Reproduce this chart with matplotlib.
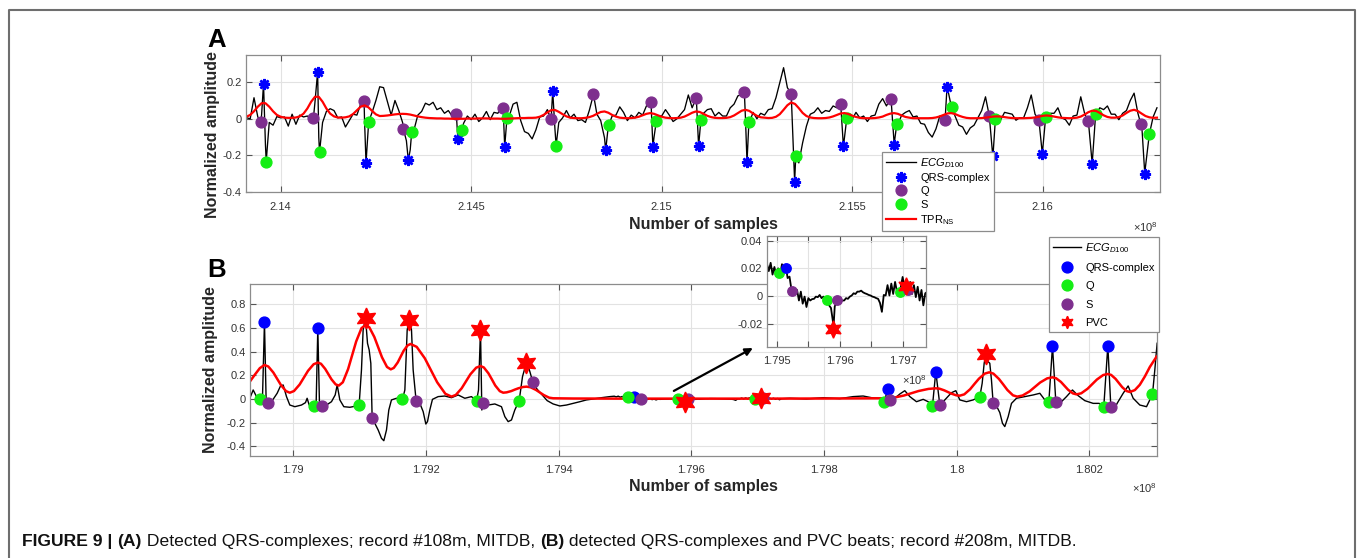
import numpy as np
import matplotlib
matplotlib.use('Agg')
import matplotlib.pyplot as plt
from matplotlib.lines import Line2D

plt.rcParams['font.family'] = ['Liberation Sans', 'DejaVu Sans']
plt.rcParams['mathtext.fontset'] = 'custom'
plt.rcParams['mathtext.rm'] = 'Liberation Sans'
plt.rcParams['mathtext.it'] = 'Liberation Sans:italic'
plt.rcParams['mathtext.bf'] = 'Liberation Sans:bold'

# ---------------- panel A : record 108m (x in 1e8 samples) ----------------
ecgA_x0, ecgA_dx = 2.1391, 0.0001
ecgA_y = [0.006, 0.0, 0.115, 0.01, 0.024, -0.14, -0.02, -0.035, 0.012, 0.005,
          0.01, -0.04, 0.025, -0.03, 0.02, 0.01, 0.015, 0.0, 0.09, -0.1,
          -0.02, 0.04, 0.055, 0.045, 0.005, 0.01, -0.045, -0.01, 0.025, 0.02,
          0.08, 0.0, -0.05, 0.035, 0.1, 0.175, 0.17, 0.095, 0.02, 0.1,
          0.045, -0.02, -0.12, -0.17, -0.06, 0.02, 0.04, 0.085, 0.075, 0.09,
          0.05, 0.06, 0.03, 0.045, 0.015, 0.03, -0.09, -0.025, 0.015, -0.005,
          0.025, -0.015, 0.005, 0.04, -0.005, 0.035, 0.03, 0.065, -0.1, 0.015,
          0.08, 0.09, -0.01, -0.07, -0.08, -0.11, -0.06, 0.01, 0.015, 0.05,
          0.0, -0.06, -0.02, 0.005, 0.045, 0.005, 0.025, -0.01, -0.005, -0.02,
          0.045, 0.124, 0.025, -0.01, -0.104, -0.04, 0.015, 0.02, 0.065, 0.035,
          -0.01, 0.02, 0.005, 0.035, 0.02, 0.07, 0.093, -0.1, 0.015, 0.015,
          0.05, 0.02, -0.015, 0.0, 0.025, 0.05, 0.13, 0.06, 0.111, -0.08,
          0.03, 0.05, 0.055, 0.015, 0.035, 0.015, 0.015, 0.06, 0.08, 0.125,
          0.133, 0.0, -0.02, 0.035, 0.0, 0.03, 0.02, 0.05, 0.055, 0.115,
          0.197, 0.279, 0.17, 0.137, -0.3, -0.241, -0.131, -0.04, 0.025, 0.035,
          0.06, 0.03, 0.045, 0.04, 0.07, 0.06, 0.079, -0.1, 0.012, -0.003,
          0.035, 0.005, 0.015, -0.015, 0.015, 0.02, 0.08, 0.11, 0.07, 0.11,
          -0.13, -0.03, 0.02, 0.035, 0.045, 0.01, 0.015, -0.025, -0.03, -0.075,
          -0.1, -0.055, 0.015, 0.005, 0.17, 0.069, 0.015, -0.035, -0.045, -0.085,
          -0.05, -0.035, 0.005, 0.045, 0.12, 0.015, -0.19, 0.012, -0.005, 0.035,
          0.03, 0.025, -0.008, 0.006, 0.005, 0.06, 0.13, 0.025, -0.004, -0.17,
          0.011, 0.03, 0.03, 0.06, 0.005, -0.005, -0.035, 0.015, 0.02, 0.12,
          0.03, -0.013, -0.245, 0.024, 0.06, 0.05, 0.07, 0.025, 0.025, -0.005,
          0.03, 0.045, 0.1, 0.14, 0.03, -0.031, -0.26, -0.084, 0.01, 0.06]
tprA_y = [0.011, 0.021, 0.041, 0.066, 0.085, 0.085, 0.066, 0.041, 0.021, 0.011,
          0.006, 0.005, 0.005, 0.007, 0.013, 0.028, 0.056, 0.093, 0.120, 0.120,
          0.093, 0.056, 0.028, 0.013, 0.007, 0.006, 0.008, 0.013, 0.026, 0.046,
          0.066, 0.073, 0.063, 0.043, 0.024, 0.015, 0.016, 0.018, 0.021, 0.024,
          0.026, 0.027, 0.026, 0.023, 0.018, 0.013, 0.009, 0.006, 0.004, 0.003,
          0.002, 0.002, 0.001, 0.001, 0.0, 0.0, 0.0, 0.0, 0.001, 0.001,
          0.001, 0.002, 0.002, 0.002, 0.001, 0.001, 0.001, 0.0, 0.0, 0.001,
          0.002, 0.003, 0.004, 0.004, 0.005, 0.005, 0.006, 0.011, 0.021, 0.035,
          0.047, 0.048, 0.038, 0.025, 0.013, 0.006, 0.004, 0.003, 0.003, 0.005,
          0.009, 0.016, 0.027, 0.037, 0.040, 0.033, 0.021, 0.012, 0.006, 0.004,
          0.003, 0.004, 0.006, 0.011, 0.019, 0.027, 0.031, 0.027, 0.019, 0.011,
          0.006, 0.004, 0.003, 0.004, 0.006, 0.012, 0.022, 0.033, 0.040, 0.037,
          0.027, 0.016, 0.009, 0.005, 0.004, 0.004, 0.005, 0.009, 0.018, 0.031,
          0.044, 0.049, 0.043, 0.029, 0.016, 0.008, 0.006, 0.004, 0.005, 0.011,
          0.025, 0.049, 0.074, 0.089, 0.081, 0.058, 0.032, 0.015, 0.007, 0.004,
          0.003, 0.003, 0.004, 0.007, 0.013, 0.021, 0.029, 0.031, 0.026, 0.017,
          0.010, 0.005, 0.003, 0.003, 0.003, 0.004, 0.007, 0.012, 0.021, 0.028,
          0.031, 0.027, 0.018, 0.010, 0.006, 0.003, 0.003, 0.003, 0.003, 0.003,
          0.004, 0.007, 0.013, 0.021, 0.029, 0.031, 0.026, 0.017, 0.010, 0.005,
          0.003, 0.003, 0.003, 0.004, 0.006, 0.009, 0.012, 0.013, 0.012, 0.009,
          0.006, 0.004, 0.003, 0.003, 0.003, 0.004, 0.005, 0.007, 0.011, 0.016,
          0.018, 0.016, 0.012, 0.008, 0.005, 0.004, 0.003, 0.004, 0.006, 0.012,
          0.023, 0.036, 0.044, 0.043, 0.032, 0.019, 0.010, 0.006, 0.006, 0.009,
          0.018, 0.032, 0.044, 0.049, 0.042, 0.028, 0.015, 0.008, 0.005, 0.006]
qrsA_x = [2.13955, 2.14097, 2.14224, 2.14335, 2.14465, 2.14588, 2.14714, 2.14853, 2.14977, 2.15097,
          2.15224, 2.15349, 2.15477, 2.15610, 2.15749, 2.15869, 2.15999, 2.16130, 2.16268]
qrsA_y = [0.192, 0.256, -0.241, -0.226, -0.108, -0.153, 0.152, -0.172, -0.153, -0.150,
          -0.237, -0.343, -0.150, -0.142, 0.175, -0.203, -0.190, -0.245, -0.300]
qA_x = [2.13948, 2.14086, 2.14219, 2.14322, 2.14461, 2.14584, 2.14709, 2.14821, 2.14972, 2.15091,
        2.15217, 2.15340, 2.15470, 2.15602, 2.15744, 2.15860, 2.15990, 2.16119, 2.16258]
qA_y = [-0.016, 0.005, 0.097, -0.055, 0.027, 0.057, 0.000, 0.133, 0.093, 0.111,
        0.148, 0.137, 0.079, 0.110, -0.004, 0.015, -0.004, -0.013, -0.031]
sA_x = [2.13962, 2.14102, 2.14231, 2.14344, 2.14476, 2.14594, 2.14723, 2.14861, 2.14986, 2.15103,
        2.15229, 2.15352, 2.15486, 2.15617, 2.15762, 2.15876, 2.16008, 2.16139, 2.16280]
sA_y = [-0.234, -0.183, -0.016, -0.071, -0.064, 0.005, -0.146, -0.035, -0.013, -0.004,
        -0.016, -0.205, 0.005, -0.031, 0.064, 0.000, 0.011, 0.024, -0.084]

# ---------------- panel B : record 208m ----------------
ecgB_x = [1.789347, 1.789398, 1.789448, 1.789503, 1.789538, 1.789568, 1.789593, 1.789619, 1.789659, 1.789709,
          1.789759, 1.789810, 1.789850, 1.789900, 1.789950, 1.790026, 1.790126, 1.790186, 1.790211, 1.790242,
          1.790312, 1.790347, 1.790372, 1.790397, 1.790428, 1.790503, 1.790578, 1.790634, 1.790664, 1.790704,
          1.790764, 1.790855, 1.790955, 1.790995, 1.791030, 1.791055, 1.791091, 1.791121, 1.791146, 1.791171,
          1.791191, 1.791231, 1.791282, 1.791332, 1.791367, 1.791407, 1.791442, 1.791482, 1.791558, 1.791648,
          1.791684, 1.791719, 1.791749, 1.791784, 1.791809, 1.791854, 1.791910, 1.791960, 1.792000, 1.792025,
          1.792060, 1.792100, 1.792186, 1.792286, 1.792387, 1.792487, 1.792588, 1.792688, 1.792764, 1.792794,
          1.792824, 1.792844, 1.792864, 1.792939, 1.793040, 1.793140, 1.793191, 1.793241, 1.793291, 1.793341,
          1.793407, 1.793457, 1.793492, 1.793527, 1.793568, 1.793613, 1.793678, 1.793753, 1.793829, 1.793919,
          1.794020, 1.794120, 1.794221, 1.794321, 1.794421, 1.794522, 1.794648, 1.794773,
          1.797486, 1.797737, 1.797988, 1.798240, 1.798440, 1.798591, 1.798717, 1.798842, 1.798903, 1.798968,
          1.799003, 1.799068, 1.799144, 1.799219, 1.799295, 1.799395, 1.799496, 1.799571, 1.799636, 1.799686,
          1.799747, 1.799822, 1.799922, 1.799988, 1.800048, 1.800149, 1.800249, 1.800350, 1.800385, 1.800415,
          1.800440, 1.800475, 1.800500, 1.800525, 1.800551, 1.800601, 1.800651, 1.800691, 1.800726, 1.800777,
          1.800827, 1.800902, 1.801028, 1.801154, 1.801254, 1.801330, 1.801390, 1.801445, 1.801495, 1.801555,
          1.801656, 1.801746, 1.801832, 1.801932, 1.802058, 1.802148, 1.802218, 1.802279, 1.802324, 1.802359,
          1.802419, 1.802510, 1.802585, 1.802661, 1.802761, 1.802862, 1.802952, 1.802987, 1.803022]
ecgB_y = [0.006, 0.076, 0.020, -0.003, 0.006, 0.647, -0.008, -0.031, -0.031, 0.006,
          0.048, 0.110, 0.118, 0.020, -0.051, -0.065, -0.051, -0.031, 0.006, -0.051,
          -0.059, -0.037, 0.596, -0.042, -0.056, -0.051, -0.023, 0.034, 0.118, -0.008,
          -0.065, -0.070, -0.059, -0.048, 0.245, 0.582, 0.686, 0.470, 0.414, 0.301,
          -0.158, -0.205, -0.262, -0.332, -0.352, -0.262, -0.093, -0.008, 0.006, -0.003,
          0.076, 0.582, 0.667, 0.582, 0.245, -0.017, -0.037, -0.107, -0.211, -0.191,
          -0.093, -0.003, 0.020, 0.025, 0.011, 0.034, 0.006, 0.020, -0.017, 0.076,
          0.582, -0.093, -0.031, -0.051, -0.042, -0.065, -0.149, -0.191, -0.177, -0.093,
          -0.014, 0.188, 0.259, 0.301, 0.231, 0.141, 0.082, 0.034, -0.014, -0.042,
          -0.059, -0.051, -0.037, -0.023, -0.008, 0.000, 0.011, 0.020,
          0.006, 0.000, 0.011, 0.003, 0.020, 0.025, 0.011, 0.006, -0.023, 0.082,
          -0.008, 0.006, 0.042, 0.070, 0.020, -0.023, -0.003, -0.023, -0.059, 0.231,
          -0.051, -0.008, 0.053, 0.070, -0.008, -0.023, -0.008, 0.020, 0.132, 0.301,
          0.377, 0.315, 0.301, 0.160, -0.037, -0.059, -0.115, -0.205, -0.233, -0.149,
          -0.037, 0.006, 0.020, 0.034, 0.048, -0.008, -0.023, 0.447, -0.023, -0.037,
          0.020, 0.076, 0.028, -0.014, -0.037, -0.037, -0.065, 0.450, -0.065, -0.107,
          -0.037, 0.048, 0.110, 0.006, -0.051, -0.065, 0.039, 0.245, 0.470]
# finely sampled stretch shown in the zoom window
ecgZ_x0, ecgZ_dx = 1.79484, 0.00003
ecgZ_y = [0.0235, 0.018, 0.024, 0.0155, 0.021, 0.0145, 0.020, 0.015, 0.023, 0.020,
          0.022, 0.013, 0.014, 0.005, 0.006, 0.004, 0.0044, -0.0032, 0.0032, -0.0055,
          -0.0004, -0.0079, -0.0015, -0.0032, -0.0022, -0.002, -0.0004, -0.0008, 0.0008, -0.0015,
          -0.0004, -0.0032, -0.0008, -0.0067, -0.0086, -0.018, -0.0074, -0.0048, -0.0039, -0.0044,
          -0.0032, -0.0032, -0.0015, -0.002, -0.0004, 0.0004, 0.002, 0.0015, 0.0032, 0.0032,
          0.0039, 0.0027, 0.002, 0.0015, 0.0008, 0.0004, -0.0004, -0.0008, -0.0015, -0.002,
          -0.005, -0.0114, 0.0008, 0.0004, 0.0079, 0.0004, 0.009, 0.0015, 0.0102, 0.0032,
          0.0048, 0.0062, 0.0138, 0.0062, 0.009, 0.0027, 0.0102, 0.0015, 0.0079, -0.0008,
          0.0067, -0.0032, 0.0044, -0.0067, 0.002]
tprB_x = [1.789347, 1.789423, 1.789498, 1.789568, 1.789626, 1.789702, 1.789759, 1.789817, 1.789893, 1.789950,
          1.790013, 1.790098, 1.790161, 1.790225, 1.790309, 1.790372, 1.790420, 1.790483, 1.790530, 1.790578,
          1.790641, 1.790689, 1.790749, 1.790829, 1.790890, 1.790950, 1.791030, 1.791091, 1.791148, 1.791224,
          1.791282, 1.791339, 1.791415, 1.791472, 1.791517, 1.791576, 1.791621, 1.791665, 1.791725, 1.791769,
          1.791862, 1.791985, 1.792078, 1.792171, 1.792294, 1.792387, 1.792452, 1.792540, 1.792605, 1.792671,
          1.792759, 1.792824, 1.792874, 1.792943, 1.792995, 1.793046, 1.793115, 1.793166, 1.793218, 1.793289,
          1.793341, 1.793394, 1.793464, 1.793517, 1.793578, 1.793658, 1.793718, 1.793778, 1.793859, 1.793919,
          1.794221, 1.794974, 1.795979, 1.796984, 1.797989, 1.798943, 1.799054, 1.799204, 1.799315, 1.799425,
          1.799576, 1.799687, 1.799741, 1.799813, 1.799868, 1.799922, 1.799994, 1.800048, 1.800115, 1.800203,
          1.800269, 1.800336, 1.800424, 1.800491, 1.800554, 1.800638, 1.800702, 1.800765, 1.800849, 1.800913,
          1.800993, 1.801099, 1.801179, 1.801259, 1.801365, 1.801445, 1.801499, 1.801572, 1.801626, 1.801680,
          1.801753, 1.801807, 1.801878, 1.801973, 1.802043, 1.802114, 1.802209, 1.802279, 1.802329, 1.802395,
          1.802445, 1.802495, 1.802561, 1.802611, 1.802686, 1.802761, 1.802837, 1.802912, 1.803013]
tprB_y = [0.146, 0.205, 0.260, 0.287, 0.274, 0.223, 0.170, 0.117, 0.066, 0.053,
          0.067, 0.122, 0.180, 0.238, 0.293, 0.307, 0.297, 0.254, 0.210, 0.166,
          0.123, 0.113, 0.141, 0.253, 0.369, 0.485, 0.597, 0.625, 0.605, 0.523,
          0.438, 0.352, 0.270, 0.250, 0.262, 0.308, 0.357, 0.406, 0.452, 0.464,
          0.440, 0.343, 0.242, 0.141, 0.044, 0.020, 0.034, 0.090, 0.149, 0.208,
          0.264, 0.278, 0.266, 0.217, 0.166, 0.114, 0.066, 0.053, 0.056, 0.067,
          0.079, 0.090, 0.101, 0.104, 0.099, 0.077, 0.055, 0.033, 0.011, 0.006,
          0.004, 0.003, 0.003, 0.003, 0.004, 0.006, 0.011, 0.029, 0.048, 0.067,
          0.085, 0.090, 0.087, 0.073, 0.059, 0.045, 0.031, 0.028, 0.039, 0.082,
          0.127, 0.171, 0.214, 0.225, 0.214, 0.169, 0.123, 0.076, 0.031, 0.020,
          0.029, 0.064, 0.102, 0.139, 0.174, 0.183, 0.175, 0.144, 0.111, 0.078,
          0.047, 0.039, 0.048, 0.086, 0.125, 0.164, 0.202, 0.211, 0.203, 0.170,
          0.135, 0.100, 0.067, 0.059, 0.075, 0.120, 0.190, 0.270, 0.357]
qrsB_x = [1.789568, 1.790372, 1.795145, 1.798968, 1.799686, 1.801445, 1.802279]
qrsB_y = [0.647, 0.596, 0.0204, 0.082, 0.231, 0.447, 0.450]
qB_x = [1.789503, 1.790312, 1.790995, 1.791648, 1.792764, 1.793407, 1.79504, 1.795794, 1.796954,
        1.798903, 1.799636, 1.800350, 1.801390, 1.802218, 1.802952]
qB_y = [-0.003, -0.059, -0.048, -0.003, -0.017, -0.014, 0.0169, -0.0028, 0.0028,
        -0.023, -0.059, 0.020, -0.023, -0.065, 0.039]
sB_x = [1.789619, 1.790428, 1.791191, 1.791854, 1.792864, 1.793613, 1.795245, 1.795952, 1.797085,
        1.799003, 1.799747, 1.800551, 1.801495, 1.802324]
sB_y = [-0.031, -0.056, -0.158, -0.017, -0.031, 0.141, 0.0040, -0.0028, 0.0047,
        -0.008, -0.051, -0.037, -0.023, -0.065]
pvcB_x = [1.791091, 1.791749, 1.792824, 1.793507, 1.795899, 1.797059, 1.800440]
pvcB_y = [0.686, 0.667, 0.582, 0.301, -0.0235, 0.0071, 0.377]

xticksA = [2.14, 2.145, 2.15, 2.155, 2.16]
yticksA = [-0.4, -0.2, 0, 0.2]
xticksB = [1.79, 1.792, 1.794, 1.796, 1.798, 1.8, 1.802]
yticksB = [-0.4, -0.2, 0, 0.2, 0.4, 0.6, 0.8]
xticksZ = [1.795, 1.7955, 1.796, 1.7965, 1.797]
xlabelsZ = ['1.795', '', '1.796', '', '1.797']
yticksZ = [-0.02, 0, 0.02, 0.04]

BLUE, PURPLE, GREEN, RED = '#0000ff', '#7e2f8e', '#14ee14', '#ff0000'


def merge(parts_x, parts_y):
    x = np.concatenate([np.asarray(p, float) for p in parts_x])
    y = np.concatenate([np.asarray(p, float) for p in parts_y])
    o = np.argsort(x, kind='stable')
    return x[o], y[o]


def style(ax, xt, yt, xl=None, xpad=7):
    ax.set_xticks(xt, labels=xl if xl else ['{:g}'.format(t) for t in xt])
    ax.set_yticks(yt, labels=['{:g}'.format(t) for t in yt])
    ax.grid(True, color='#e2e2e2', lw=0.8)
    ax.set_axisbelow(True)
    ax.tick_params(direction='in', top=True, right=True, length=4, width=0.8,
                   color='#555555', labelcolor='#333333', labelsize=8)
    ax.tick_params(axis='x', pad=xpad)
    ax.tick_params(axis='y', pad=3)
    for s in ax.spines.values():
        s.set_color('#8c8c8c')
        s.set_linewidth(0.9)


W, H = 1360, 558
fig = plt.figure(figsize=(W / 100, H / 100), dpi=100)


def box(l, t, r, b):
    return [l / W, 1 - b / H, (r - l) / W, (b - t) / H]


# ---- A ----
axA = fig.add_axes(box(246, 54.7, 1160, 192))
gridA = ecgA_x0 + ecgA_dx * np.arange(len(ecgA_y))
xa, ya = merge([gridA, qrsA_x, qA_x, sA_x], [ecgA_y, qrsA_y, qA_y, sA_y])
lA0, = axA.plot(xa, ya, color='k', lw=0.95)
lA1, = axA.plot(qrsA_x, qrsA_y, ls='none', marker=(8, 2, 0), ms=8, mew=1.8, color=BLUE)
lA2, = axA.plot(qA_x, qA_y, ls='none', marker='o', ms=7.8, color=PURPLE)
lA3, = axA.plot(sA_x, sA_y, ls='none', marker='o', ms=7.8, color=GREEN)
lA4, = axA.plot(gridA, tprA_y, color=RED, lw=1.6)
axA.set_xlim(2.13909, 2.16308)
axA.set_ylim(-0.4, 0.35)
style(axA, xticksA, yticksA, xpad=7)

# ---- B ----
axB = fig.add_axes(box(250, 284, 1157, 456))
gridZ = ecgZ_x0 + ecgZ_dx * np.arange(len(ecgZ_y))
xb, yb = merge([ecgB_x, gridZ, qrsB_x, qB_x, sB_x, pvcB_x],
               [ecgB_y, ecgZ_y, qrsB_y, qB_y, sB_y, pvcB_y])
lB0, = axB.plot(xb, yb, color='k', lw=1.0)
axB.plot(tprB_x, tprB_y, color=RED, lw=1.8)
lB1, = axB.plot(qrsB_x, qrsB_y, ls='none', marker='o', ms=7.8, color=BLUE)
lB2, = axB.plot(qB_x, qB_y, ls='none', marker='o', ms=7.8, color=GREEN)
lB3, = axB.plot(sB_x, sB_y, ls='none', marker='o', ms=7.8, color=PURPLE)
lB4, = axB.plot(pvcB_x, pvcB_y, ls='none', marker=(6, 1, 0), ms=15, color=RED)
axB.set_xlim(1.78935, 1.80302)
axB.set_ylim(-0.481, 0.97)
style(axB, xticksB, yticksB, xpad=6.5)
axB.annotate('', xy=(1.796929, 0.43), xytext=(1.795738, 0.068),
             arrowprops=dict(arrowstyle='-|>', color='k', lw=1.6, mutation_scale=11,
                             shrinkA=0, shrinkB=0))

# ---- zoom window ----
axZ = fig.add_axes(box(766.5, 236.5, 926, 347.3))
axZ.plot(xb, yb, color='k', lw=1.3)
axZ.plot(qB_x, qB_y, ls='none', marker='o', ms=6.8, color=GREEN)
axZ.plot(qrsB_x, qrsB_y, ls='none', marker='o', ms=6.8, color=BLUE)
axZ.plot(sB_x, sB_y, ls='none', marker='o', ms=6.8, color=PURPLE)
axZ.plot(pvcB_x, pvcB_y, ls='none', marker=(6, 1, 0), ms=12.5, color=RED)
axZ.set_xlim(1.794834, 1.797372)
axZ.set_ylim(-0.037, 0.043)
style(axZ, xticksZ, yticksZ, xl=xlabelsZ, xpad=6.3)

# ---- legends ----
legkw = dict(loc='upper left', borderaxespad=0, fontsize=8, frameon=True, fancybox=False,
             edgecolor='#8c8c8c', framealpha=1, handletextpad=0.4, borderpad=0.35)
legA = fig.legend([lA0, lA1, lA2, lA3, lA4],
                  ['$ECG_{D100}$', 'QRS-complex', 'Q', 'S', 'TPR$_{\\mathrm{NS}}$'],
                  bbox_to_anchor=(882 / W, 1 - 152 / H), handlelength=2.7, labelspacing=0.3, **legkw)
legA.get_frame().set_linewidth(0.9)
legB = fig.legend([lB0, lB1, lB2, lB3, lB4],
                  ['$ECG_{D100}$', 'QRS-complex', 'Q', 'S', 'PVC'],
                  bbox_to_anchor=(1049 / W, 1 - 237 / H), handlelength=2.5, labelspacing=0.75, **legkw)
legB.get_frame().set_linewidth(0.9)
legB.legend_handles[4].set_markersize(9)

# ---- figure texts ----
fig.text(207 / W, 1 - 47 / H, 'A', fontsize=18.5, fontweight='bold', va='baseline')
fig.text(207 / W, 1 - 277 / H, 'B', fontsize=18.5, fontweight='bold', va='baseline')
fig.text(212 / W, 1 - 135 / H, 'Normalized amplitude', rotation=90, ha='center', va='center',
         fontsize=11.5, fontweight='bold', color='#262626')
fig.text(211 / W, 1 - 370 / H, 'Normalized amplitude', rotation=90, ha='center', va='center',
         fontsize=11.5, fontweight='bold', color='#262626')
fig.text(703 / W, 1 - 225 / H, 'Number of samples', ha='center', va='center',
         fontsize=11.5, fontweight='bold', color='#262626')
fig.text(703 / W, 1 - 487 / H, 'Number of samples', ha='center', va='center',
         fontsize=11.5, fontweight='bold', color='#262626')
for px, py in [(1158, 227), (1157, 488), (927, 380)]:
    fig.text(px / W, 1 - py / H, '\u00d710$^{8}$', ha='right', va='center', fontsize=8, color='#333333')

# frame around figure
fig.add_artist(Line2D([9 / W, 9 / W, 1355 / W, 1355 / W], [-0.02, 1 - 10 / H, 1 - 10 / H, -0.02],
                      transform=fig.transFigure, color='#6e6e6e', lw=1.5))

# caption, built piece by piece for the bold parts
parts = [('FIGURE 9 | ', True), ('(A)', True),
         (' Detected QRS-complexes; record #108m, MITDB, ', False), ('(B)', True),
         (' detected QRS-complexes and PVC beats; record #208m, MITDB.', False)]
renderer = fig.canvas.get_renderer()
cx = 22
for s, bold in parts:
    t = fig.text(cx / W, 1 - 546 / H, s, fontsize=12.6, va='baseline', color='#111111',
                 fontweight='bold' if bold else 'normal')
    cx += t.get_window_extent(renderer=renderer).width

fig.savefig('out.png', dpi=100)
